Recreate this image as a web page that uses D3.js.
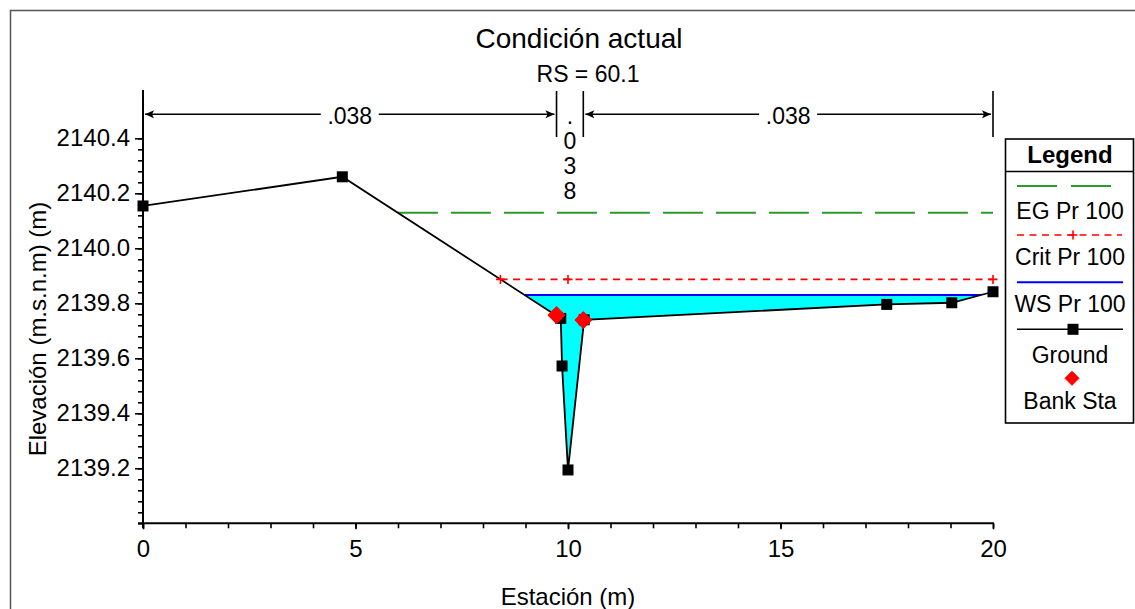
<!DOCTYPE html>
<html><head><meta charset="utf-8">
<script src="https://cdnjs.cloudflare.com/ajax/libs/d3/7.8.5/d3.min.js"></script>
<style>
body{margin:0;background:#fff}
svg{display:block}
text{font-family:"Liberation Sans",Arial,sans-serif;fill:#000}
</style>
</head><body>
<svg id="c" width="1135" height="609"></svg>
<script>
// ---- data ----
const groundSta  = [0, 4.69, 9.83, 9.86, 10.0, 10.38, 17.5, 19.03, 20];
const groundElev = [2140.154, 2140.260, 2139.745, 2139.572, 2139.194, 2139.740, 2139.796, 2139.802, 2139.842];
const bankSta  = [9.73, 10.36];
const bankElev = [2139.757, 2139.739];
const wsElev   = 2139.83;
const egElev   = 2140.129;
const critElev = 2139.887;
const critMarkerSta = [8.41, 10.0, 20.0];
const manningN = [".038", ".038", ".038"];
const xTickLabels = [0, 5, 10, 15, 20];
const yTickLabels = [2139.2, 2139.4, 2139.6, 2139.8, 2140.0, 2140.2, 2140.4];
const legendLabels = ["EG Pr 100", "Crit Pr 100", "WS Pr 100", "Ground", "Bank Sta"];
const titleText = "Condición actual";
const subtitleText = "RS = 60.1";
const xTitle = "Estación (m)";
const yTitle = "Elevación (m.s.n.m)  (m)";

// ---- scales ----
const x = d3.scaleLinear().domain([0, 20]).range([143, 993]);
const y = d3.scaleLinear().domain([2139.0, 2140.4]).range([523.3, 138.3]);
const svg = d3.select("#c");
const ground = groundSta.map((s, i) => ({s, e: groundElev[i]}));

// outer border
svg.append("rect").attr("x", 10.5).attr("y", 10.5).attr("width", 1140).attr("height", 620)
  .attr("fill", "none").attr("stroke", "#555").attr("stroke-width", 1.5);

// crossings of a level with the ground
function crossings(level) {
  const out = [];
  for (let i = 0; i < ground.length - 1; i++) {
    const a = ground[i].e - level, b = ground[i + 1].e - level;
    if (a * b < 0) out.push(ground[i].s + (ground[i + 1].s - ground[i].s) * a / (a - b));
  }
  return out;
}
function groundAt(s) {
  for (let i = 0; i < ground.length - 1; i++) {
    if (s >= ground[i].s && s <= ground[i + 1].s) {
      const t = (s - ground[i].s) / (ground[i + 1].s - ground[i].s || 1);
      return ground[i].e + t * (ground[i + 1].e - ground[i].e);
    }
  }
  return ground[ground.length - 1].e;
}

// water fill
const wsX = crossings(wsElev);
const wsL = wsX[0], wsR = wsX[wsX.length - 1];
const fillSta = groundSta.filter(s => s > wsL && s < wsR).concat([wsL, wsR]).sort((a, b) => a - b);
svg.append("path")
  .datum(fillSta)
  .attr("d", d3.area().x(s => x(s)).y0(y(wsElev)).y1(s => y(Math.min(groundAt(s), wsElev))))
  .attr("fill", "#00ffff").attr("stroke", "none");

// EG line
const egX = crossings(egElev);
svg.append("line").attr("x1", x(egX[0])).attr("x2", x(20)).attr("y1", y(egElev)).attr("y2", y(egElev))
  .attr("stroke", "#2e9a2e").attr("stroke-width", 2).attr("stroke-dasharray", "40,13");

// Crit line
const crX = crossings(critElev);
svg.append("line").attr("x1", x(crX[0])).attr("x2", x(20)).attr("y1", y(critElev)).attr("y2", y(critElev))
  .attr("stroke", "#ff0000").attr("stroke-width", 1.6).attr("stroke-dasharray", "7,5.5");

// WS line
svg.append("line").attr("x1", x(wsL)).attr("x2", x(wsR)).attr("y1", y(wsElev)).attr("y2", y(wsElev))
  .attr("stroke", "#0000ff").attr("stroke-width", 2);

// ground line
svg.append("path").datum(ground)
  .attr("d", d3.line().x(d => x(d.s)).y(d => y(d.e)))
  .attr("fill", "none").attr("stroke", "#000").attr("stroke-width", 1.8);

// ground markers
svg.selectAll(".gm").data(ground).enter().append("rect")
  .attr("x", d => x(d.s) - 5.5).attr("y", d => y(d.e) - 5.5).attr("width", 11).attr("height", 11)
  .attr("fill", "#000");

// crit markers
critMarkerSta.forEach(s => {
  const cx = x(s), cy = y(critElev);
  svg.append("path").attr("d", `M${cx - 4.5},${cy}H${cx + 4.5}M${cx},${cy - 4.5}V${cy + 4.5}`)
    .attr("stroke", "#ff0000").attr("stroke-width", 1.6);
});

// bank stations
const diamond = (cx, cy, r) => `M${cx},${cy - r}L${cx + r},${cy}L${cx},${cy + r}L${cx - r},${cy}Z`;
bankSta.forEach((s, i) => {
  svg.append("path").attr("d", diamond(x(s), y(bankElev[i]), 8)).attr("fill", "#ff0000")
    .attr("stroke", "#ff0000").attr("stroke-width", 1.5).attr("stroke-linejoin", "round");
});

// axes
const yMinor = d3.range(0, 36).map(i => 2139.0 + i * 0.04);
const gy = svg.append("g").attr("transform", "translate(143,0)");
gy.call(d3.axisLeft(y).tickValues(yMinor).tickSize(5).tickFormat(""));
gy.call(g => g.select(".domain").remove());
const gy2 = svg.append("g").attr("transform", "translate(143,0)");
gy2.call(d3.axisLeft(y).tickValues(yTickLabels).tickSize(8).tickPadding(5).tickFormat(d3.format(".1f")));
gy2.call(g => g.select(".domain").remove());
gy2.selectAll("text").style("font-size", "24px").style("font-family", "Liberation Sans, Arial, sans-serif").attr("fill", "#000");

const xMinor = d3.range(0, 21);
const gx = svg.append("g").attr("transform", "translate(0,523.3)");
gx.call(d3.axisBottom(x).tickValues(xMinor).tickSize(5).tickFormat(""));
gx.call(g => g.select(".domain").remove());
const gx2 = svg.append("g").attr("transform", "translate(0,523.3)");
gx2.call(d3.axisBottom(x).tickValues(xTickLabels).tickSize(6).tickPadding(11).tickFormat(d3.format("d")));
gx2.call(g => g.select(".domain").remove());
gx2.selectAll("text").style("font-size", "24px").style("font-family", "Liberation Sans, Arial, sans-serif").attr("fill", "#000");
svg.selectAll("g.tick line").attr("stroke-width", 1.6);

svg.append("line").attr("x1", 143).attr("x2", 143).attr("y1", 90).attr("y2", 528).attr("stroke", "#000").attr("stroke-width", 2);
svg.append("line").attr("x1", 138).attr("x2", 994).attr("y1", 523.3).attr("y2", 523.3).attr("stroke", "#000").attr("stroke-width", 2);

// titles
svg.append("text").attr("x", 579).attr("y", 48).attr("text-anchor", "middle").style("font-size", "28px").text(titleText);
svg.append("text").attr("x", 588).attr("y", 82).attr("text-anchor", "middle").style("font-size", "23px").text(subtitleText);
svg.append("text").attr("x", 568).attr("y", 605).attr("text-anchor", "middle").style("font-size", "24px").text(xTitle);
svg.append("text").attr("transform", "translate(46,329) rotate(-90)").attr("text-anchor", "middle").style("font-size", "24px").text(yTitle);

// Manning's n roughness bars
const nBounds = [0, bankSta[0], bankSta[1], 20];
const nY = 114.3;
function arrowHead(px, dir) { // dir: -1 pointing left, +1 pointing right
  return `M${px},${nY}L${px - dir * 9},${nY - 4}L${px - dir * 7},${nY}L${px - dir * 9},${nY + 4}Z`;
}
[1, 2, 3].forEach(i => {
  const bx = x(nBounds[i]);
  svg.append("line").attr("x1", bx).attr("x2", bx).attr("y1", 91).attr("y2", 137).attr("stroke", "#000").attr("stroke-width", 1.6);
});
manningN.forEach((lab, i) => {
  const x0 = x(nBounds[i]), x1 = x(nBounds[i + 1]);
  const cx = (x0 + x1) / 2;
  if (x1 - x0 > 80) {
    const halfW = 29;
    svg.append("line").attr("x1", x0 + 2).attr("x2", cx - halfW).attr("y1", nY).attr("y2", nY).attr("stroke", "#000").attr("stroke-width", 1.6);
    svg.append("line").attr("x1", cx + halfW).attr("x2", x1 - 2).attr("y1", nY).attr("y2", nY).attr("stroke", "#000").attr("stroke-width", 1.6);
    svg.append("path").attr("d", arrowHead(x0 + 2, -1)).attr("fill", "#000");
    svg.append("path").attr("d", arrowHead(x1 - 2, 1)).attr("fill", "#000");
    svg.append("text").attr("x", cx).attr("y", nY + 10).attr("text-anchor", "middle").style("font-size", "23px").text(lab);
  } else {
    lab.split("").forEach((ch, k) => {
      svg.append("text").attr("x", cx).attr("y", nY + 10 + k * 25).attr("text-anchor", "middle").style("font-size", "23px").text(ch);
    });
  }
});

// legend
const lg = svg.append("g");
lg.append("rect").attr("x", 1005.5).attr("y", 139).attr("width", 128).attr("height", 284)
  .attr("fill", "#fff").attr("stroke", "#000").attr("stroke-width", 1.6);
lg.append("line").attr("x1", 1005.5).attr("x2", 1133.5).attr("y1", 171.5).attr("y2", 171.5).attr("stroke", "#000").attr("stroke-width", 1.6);
lg.append("text").attr("x", 1070).attr("y", 163).attr("text-anchor", "middle").style("font-size", "24px").style("font-weight", "bold").text("Legend");
const lcx = 1070;
// EG
lg.append("line").attr("x1", 1017).attr("x2", 1112).attr("y1", 186).attr("y2", 186)
  .attr("stroke", "#2e9a2e").attr("stroke-width", 2).attr("stroke-dasharray", "40,14");
// Crit
lg.append("line").attr("x1", 1017).attr("x2", 1122).attr("y1", 235).attr("y2", 235)
  .attr("stroke", "#ff0000").attr("stroke-width", 1.6).attr("stroke-dasharray", "7,5.5");
lg.append("path").attr("d", `M${lcx + 3 - 4.5},235H${lcx + 3 + 4.5}M${lcx + 3},230.5V239.5`).attr("stroke", "#ff0000").attr("stroke-width", 1.6);
// WS
lg.append("line").attr("x1", 1017).attr("x2", 1123).attr("y1", 282.3).attr("y2", 282.3).attr("stroke", "#0000ff").attr("stroke-width", 2);
// Ground
lg.append("line").attr("x1", 1017).attr("x2", 1123).attr("y1", 329.3).attr("y2", 329.3).attr("stroke", "#000").attr("stroke-width", 1.6);
lg.append("rect").attr("x", lcx + 3 - 5.5).attr("y", 323.8).attr("width", 11).attr("height", 11).attr("fill", "#000");
// Bank
lg.append("path").attr("d", diamond(lcx + 2, 378.3, 7)).attr("fill", "#ff0000")
  .attr("stroke", "#ff0000").attr("stroke-width", 1).attr("stroke-linejoin", "round");
const labY = [210, 256.7, 303.3, 354, 400.7];
legendLabels.forEach((t, i) => {
  lg.append("text").attr("x", lcx).attr("y", labY[i] + 8.5).attr("text-anchor", "middle").style("font-size", "23px").text(t);
});
</script>
</body></html>
